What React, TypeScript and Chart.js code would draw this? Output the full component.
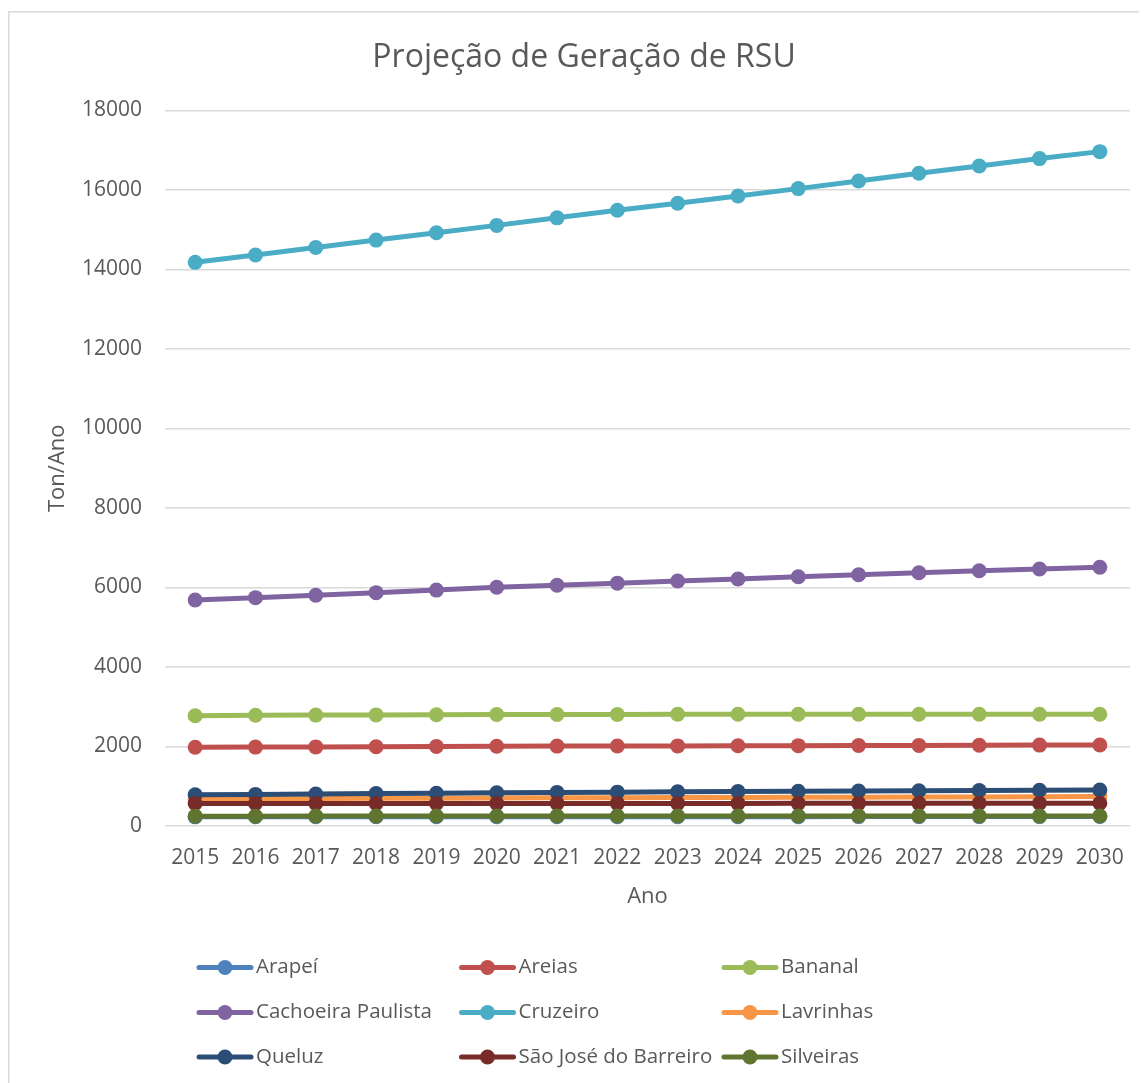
import React, { useEffect, useRef } from "react";
import { Chart, registerables } from "chart.js";

Chart.register(...registerables);

const TITLE = "Projeção de Geração de RSU";
const X_TITLE = "Ano";
const Y_TITLE = "Ton/Ano";

const years = ["2015", "2016", "2017", "2018", "2019", "2020", "2021", "2022", "2023", "2024", "2025", "2026", "2027", "2028", "2029", "2030"];

const seriesNames = ["Arapeí", "Areias", "Bananal", "Cachoeira Paulista", "Cruzeiro", "Lavrinhas", "Queluz", "São José do Barreiro", "Silveiras"];
const seriesColors = ["#4F81BD", "#C0504D", "#9BBB59", "#8064A2", "#4BACC6", "#F79646", "#2C4D75", "#772C2A", "#5F7530"];

const arapei = [230, 231, 231, 232, 232, 233, 233, 234, 234, 235, 235, 236, 236, 237, 237, 238];
const areias = [1980, 1985, 1990, 1995, 2000, 2005, 2010, 2012, 2015, 2018, 2022, 2025, 2028, 2031, 2035, 2038];
const bananal = [2775, 2785, 2790, 2795, 2800, 2805, 2805, 2805, 2810, 2810, 2810, 2810, 2810, 2810, 2810, 2810];
const cachoeira = [5685, 5745, 5805, 5870, 5935, 6005, 6055, 6110, 6165, 6215, 6270, 6320, 6370, 6420, 6465, 6510];
const cruzeiro = [14180, 14365, 14555, 14740, 14925, 15110, 15300, 15490, 15665, 15850, 16035, 16225, 16420, 16605, 16790, 16965];
const lavrinhas = [680, 685, 690, 695, 700, 705, 710, 713, 716, 719, 722, 725, 728, 732, 736, 740];
const queluz = [785, 795, 805, 815, 825, 835, 845, 852, 860, 867, 874, 880, 887, 893, 899, 905];
const saoJose = [565, 565, 566, 566, 567, 567, 568, 568, 569, 569, 570, 570, 570, 571, 571, 572];
const silveiras = [248, 248, 249, 249, 250, 250, 250, 251, 251, 251, 252, 252, 252, 253, 253, 253];

const seriesValues = [arapei, areias, bananal, cachoeira, cruzeiro, lavrinhas, queluz, saoJose, silveiras];

const FONT = "'Open Sans', 'Noto Sans', sans-serif";
const TEXT = "#595959";

const decorPlugin = {
  id: "decor",
  afterDraw(chart: any) {
    const ctx = chart.ctx as CanvasRenderingContext2D;
    ctx.save();
    // outer border
    ctx.strokeStyle = "#D9D9D9";
    ctx.lineWidth = 1.5;
    ctx.strokeRect(0.75, 3.75, 1400, 1400);
    // title
    ctx.fillStyle = TEXT;
    ctx.font = `32px ${FONT}`;
    ctx.textAlign = "center";
    ctx.textBaseline = "alphabetic";
    ctx.fillText(TITLE, 576, 59);
    // legend
    const colX = [189, 451.5, 714];
    const rowY = [959.5, 1004.5, 1049];
    ctx.font = `20.5px ${FONT}`;
    ctx.textAlign = "left";
    ctx.textBaseline = "middle";
    chart.data.datasets.forEach((ds: any, i: number) => {
      const x = colX[i % 3];
      const y = rowY[Math.floor(i / 3)];
      ctx.strokeStyle = ds.borderColor;
      ctx.lineWidth = 5;
      ctx.lineCap = "round";
      ctx.beginPath();
      ctx.moveTo(x + 2, y);
      ctx.lineTo(x + 54, y);
      ctx.stroke();
      ctx.fillStyle = ds.borderColor;
      ctx.beginPath();
      ctx.arc(x + 28, y, 7.5, 0, Math.PI * 2);
      ctx.fill();
      ctx.fillStyle = TEXT;
      ctx.fillText(ds.label, x + 59, y);
    });
    ctx.restore();
  },
};

export default function App() {
  const ref = useRef<HTMLCanvasElement | null>(null);
  useEffect(() => {
    if (!ref.current) return;
    const chart = new Chart(ref.current, {
      type: "line",
      data: {
        labels: years,
        datasets: seriesNames.map((name, i) => ({
          label: name,
          data: seriesValues[i],
          borderColor: seriesColors[i],
          backgroundColor: seriesColors[i],
          pointBackgroundColor: seriesColors[i],
          pointBorderColor: seriesColors[i],
          borderWidth: 5,
          pointRadius: 7.5,
          pointBorderWidth: 0,
          tension: 0,
          order: seriesNames.length - i,
        })),
      },
      options: {
        animation: false,
        responsive: false,
        maintainAspectRatio: false,
        layout: { padding: { top: 102.5, right: 17, bottom: 157, left: 0 } },
        plugins: {
          legend: { display: false },
          title: { display: false },
          tooltip: { enabled: false },
        },
        scales: {
          x: {
            type: "category",
            offset: true,
            grid: { display: false, drawTicks: false },
            border: { display: false },
            ticks: { color: TEXT, font: { family: FONT, size: 21 }, padding: 19, maxRotation: 0, autoSkip: false },
            title: { display: true, text: X_TITLE, color: TEXT, font: { family: FONT, size: 22 }, padding: { top: 0, bottom: 16 } },
            afterFit: (s: any) => { s.height = 100; },
          },
          y: {
            min: 0,
            max: 18000,
            ticks: { stepSize: 2000, color: TEXT, font: { family: FONT, size: 21 }, padding: 23, callback: (v: any) => String(v) },
            grid: { color: "#D9D9D9", lineWidth: 1.5, drawTicks: false },
            border: { display: false },
            title: { display: true, text: Y_TITLE, color: TEXT, font: { family: FONT, size: 22 }, padding: { top: 37, bottom: 0 } },
            afterFit: (s: any) => { s.width = 157; },
          },
        },
      },
      plugins: [decorPlugin],
    });
    return () => chart.destroy();
  }, []);
  return (
    <div style={{ width: 1139, height: 1075 }}>
      <canvas ref={ref} width={1139} height={1075} style={{ width: 1139, height: 1075, display: "block" }} />
    </div>
  );
}
